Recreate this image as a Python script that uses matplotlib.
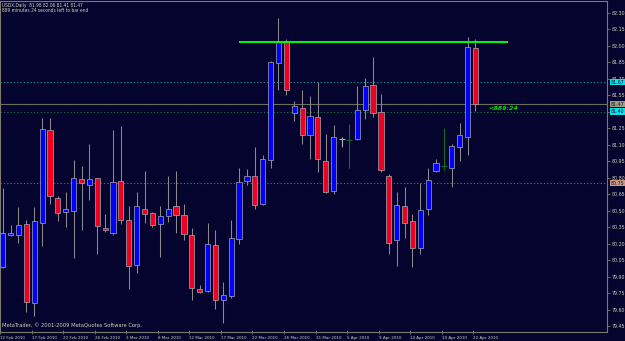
import os
import matplotlib
matplotlib.use('Agg')
import matplotlib.pyplot as plt
from matplotlib.patches import Rectangle
from matplotlib import font_manager
from matplotlib.font_manager import FontProperties

# ---------------- data (USDX daily) ----------------
opens = [79.99, 80.28, 80.28, 80.38, 79.66, 80.39, 81.23, 80.62, 80.49, 80.50,
         80.79, 80.73, 80.80, 80.34, 80.30, 80.77, 80.42, 80.01, 80.52, 80.48,
         80.38, 80.45, 80.54, 80.46, 80.28, 79.79, 79.77, 80.19, 79.69, 79.72,
         80.24, 80.77, 80.82, 80.56, 80.96, 81.84, 82.04, 81.39, 81.43, 81.19,
         81.35, 80.95, 80.68, 81.15, 81.14, 81.15, 81.42, 81.64, 81.40, 80.82,
         80.23, 80.54, 80.41, 80.16, 80.52, 80.86, 80.91, 80.89, 81.08, 81.17, 81.98]
highs = [80.71, 80.37, 80.53, 80.42, 80.53, 81.34, 81.34, 80.63, 80.67, 80.96,
         80.91, 81.11, 80.80, 80.47, 81.23, 81.27, 80.54, 80.67, 80.86, 80.49,
         80.54, 80.82, 80.86, 80.56, 80.34, 79.82, 80.39, 80.32, 79.85, 80.42,
         80.89, 80.88, 81.08, 81.01, 81.86, 82.25, 82.06, 81.50, 81.60, 81.54,
         81.67, 81.20, 81.28, 81.17, 81.29, 81.63, 81.71, 81.90, 81.56, 80.83,
         80.67, 80.72, 80.47, 80.75, 80.89, 80.97, 81.25, 81.11, 81.30, 82.08, 82.06]
lows = [79.98, 80.27, 80.21, 79.58, 79.54, 80.18, 80.56, 80.41, 80.35, 80.07,
        80.32, 80.60, 80.11, 80.31, 80.28, 80.38, 79.79, 79.93, 80.39, 80.35,
        80.08, 80.40, 80.30, 80.23, 79.69, 79.75, 79.76, 79.61, 79.48, 79.71,
        80.20, 80.73, 80.52, 80.55, 80.89, 81.60, 81.55, 81.32, 81.11, 80.97,
        80.85, 80.66, 80.65, 81.08, 80.89, 81.14, 81.33, 81.35, 80.85, 80.11,
        80.00, 80.25, 79.99, 80.11, 80.46, 80.85, 80.87, 80.72, 80.95, 81.01, 81.41]
closes = [80.30, 80.30, 80.37, 79.67, 80.41, 81.24, 80.63, 80.48, 80.52, 80.80,
          80.75, 80.79, 80.36, 80.32, 80.76, 80.42, 80.00, 80.54, 80.47, 80.37,
          80.45, 80.52, 80.46, 80.29, 79.80, 79.76, 80.20, 79.69, 79.73, 80.25,
          80.76, 80.82, 80.55, 80.97, 81.85, 82.03, 81.60, 81.45, 81.19, 81.36,
          80.97, 80.67, 81.17, 81.15, 81.14, 81.42, 81.63, 81.39, 80.87, 80.21,
          80.55, 80.39, 80.16, 80.51, 80.78, 80.93, 80.91, 81.09, 81.19, 81.99, 81.47]
green_doji = [44, 56]

date_labels = ['12 Feb 2010', '17 Feb 2010', '22 Feb 2010', '26 Feb 2010', '3 Mar 2010',
               '8 Mar 2010', '12 Mar 2010', '17 Mar 2010', '22 Mar 2010', '26 Mar 2010',
               '31 Mar 2010', '5 Apr 2010', '9 Apr 2010', '14 Apr 2010', '19 Apr 2010',
               '22 Apr 2010']
date_label_bars = [0, 4, 8, 12, 16, 20, 24, 28, 32, 36, 40, 44, 48, 52, 56, 60]

price_ticks = [79.45, 79.60, 79.75, 79.90, 80.05, 80.20, 80.35, 80.50, 80.65, 80.80,
               80.95, 81.10, 81.25, 81.40, 81.55, 81.70, 81.85, 82.00, 82.15, 82.30]

resistance_level = 82.03
teal_level = 81.67
bid_level = 81.47
green_level = 81.40
brown_level = 80.75
countdown = '<889:24'
title1 = 'USDX,Daily  81.98 82.06 81.41 81.47'
title2 = '889 minutes 24 seconds left to bar end'
copyright_txt = 'MetaTrader, \u00a9 2001-2009 MetaQuotes Software Corp.'

# ---------------- font: prefer a narrow face ----------------
prefs = ['LiberationSansNarrow-Regular.ttf', 'DejaVuSansCondensed.ttf',
         'NotoSans-Condensed.ttf', 'RobotoCondensed-Regular.ttf',
         'OpenSans-CondensedRegular.ttf', 'OpenSans_Condensed-Regular.ttf']
files = {os.path.basename(f.fname): f.fname for f in font_manager.fontManager.ttflist}
narrow_file = None
for p in prefs:
    if p in files:
        narrow_file = files[p]
        break
if narrow_file is None:
    for b, fn in files.items():
        bl = b.lower()
        if ('narrow' in bl or 'condensed' in bl) and not any(
                k in bl for k in ('bold', 'italic', 'oblique', 'light', 'semi', 'extra',
                                  'thin', 'black', 'medium')):
            narrow_file = fn
            break


def fp(size):
    if narrow_file:
        return FontProperties(fname=narrow_file, size=size)
    return FontProperties(family='DejaVu Sans', size=size)


def fp_cd(size):
    return FontProperties(family='DejaVu Sans', style='italic', weight='bold', size=size)


BG = '#04042e'
AXC = '#7a7a6e'
TXT = '#cfcfb8'
W, H = 625, 341

fig = plt.figure(figsize=(W / 100, H / 100), dpi=100, facecolor=BG)
renderer = fig.canvas.get_renderer()


def fit(text, target_px, maker=fp):
    w, h, d = renderer.get_text_width_height_descent(text, maker(10), ismath=False)
    return 10 * target_px / w


s_price = fit('82.30', 13.5)
s_date = fit('12 Feb 2010', 25.0)
s_title = fit(title1, 82.0)
s_copy = fit(copyright_txt, 141.0)
s_cd = fit(countdown, 30.0, fp_cd)

ax = fig.add_axes([0, (H - 331.5) / H, 607 / W, (331.5 - 1) / H], facecolor=BG)
ax.set_xlim(-0.343, 76.69)
ax.set_ylim(79.4018, 82.4064)

# horizontal levels
ax.axhline(teal_level, color='#0f8c8c', lw=0.8, ls=(0, (1.2, 1.8)), zorder=1)
ax.axhline(bid_level, color='#6e6e60', lw=0.8, zorder=1)
ax.axhline(green_level, color='#0e6a3a', lw=0.8, ls=(0, (1.2, 1.8)), zorder=1)
ax.axhline(brown_level, color='#7a5a3a', lw=0.8, ls=(0, (1.2, 1.8)), zorder=1)

# candles
bw = 0.66
for i, (o, h, l, c) in enumerate(zip(opens, highs, lows, closes)):
    if o == c:
        col = '#0e6e1a' if i in green_doji else '#b0b0b0'
        ax.vlines(i, l, h, color=col, lw=0.8, zorder=2)
        ax.hlines(o, i - bw / 2 - 0.05, i + bw / 2 + 0.05, color=col, lw=0.8, zorder=2)
        continue
    ax.vlines(i, l, h, color='#8a8a8a', lw=0.75, zorder=2)
    face = '#0000ff' if c > o else '#ee0020'
    ax.add_patch(Rectangle((i - bw / 2, min(o, c)), bw, abs(c - o),
                           facecolor=face, edgecolor='#a8a8b4', lw=0.5, zorder=3))

# resistance trendline
ax.plot([30.1, 64.0], [resistance_level, resistance_level], color='#00ff00', lw=1.4, zorder=4)

# countdown text
ax.text(61.6, 81.425, countdown, color='#00e000', fontproperties=fp_cd(s_cd),
        va='center', ha='left', zorder=5)

# spines
for s in ax.spines.values():
    s.set_color(AXC)
    s.set_linewidth(0.8)

# right price axis
ax.yaxis.tick_right()
ax.set_yticks(price_ticks)
ax.set_yticklabels(['%.2f' % p for p in price_ticks])
ax.tick_params(axis='y', colors=AXC, labelcolor=TXT, length=2, width=0.6, pad=1.5)
for lab in ax.get_yticklabels():
    lab.set_fontproperties(fp(s_price))

# x axis labels
ax.set_xticks([b - 0.3 for b in date_label_bars])
ax.set_xticklabels(date_labels, ha='left')
ax.tick_params(axis='x', colors=AXC, labelcolor=TXT, length=3, width=0.6,
               pad=1.5, direction='inout')
for lab in ax.get_xticklabels():
    lab.set_fontproperties(fp(s_date))

# highlighted price labels on the right axis
ytr = ax.get_yaxis_transform()
for lvl, bgc in [(teal_level, '#10e0ea'), (bid_level, '#9aa08a'),
                 (green_level, '#10e0ea'), (brown_level, '#c89888')]:
    ax.text(1.0065, lvl, '%.2f' % lvl, transform=ytr, fontproperties=fp(s_price),
            color='#101020', va='center', ha='left', clip_on=False, zorder=10,
            bbox=dict(boxstyle='square,pad=0.15', facecolor=bgc, edgecolor='none'))

# header and footer texts
fig.text(2 / W, 1 - 5 / H, title1, color=TXT, fontproperties=fp(s_title), va='center', ha='left')
fig.text(2 / W, 1 - 11 / H, title2, color=TXT, fontproperties=fp(s_title), va='center', ha='left')
fig.text(2 / W, 1 - 325 / H, copyright_txt, color=TXT, fontproperties=fp(s_copy),
         va='center', ha='left')

fig.savefig('out.png', dpi=100, facecolor=BG)
